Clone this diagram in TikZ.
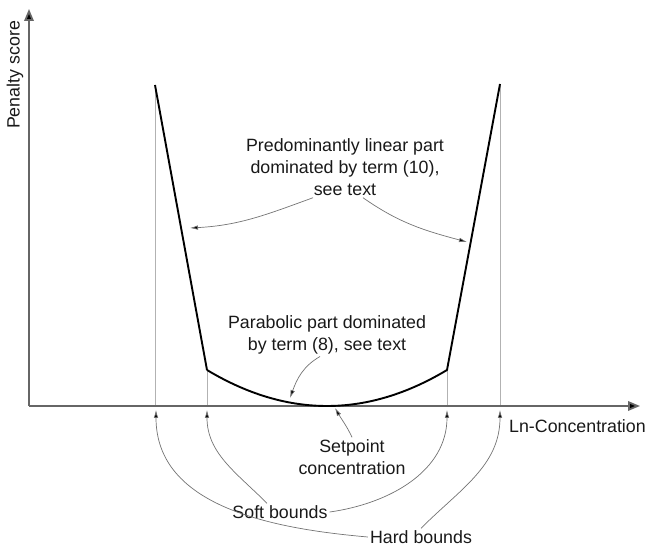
\documentclass[tikz,border=0pt]{standalone}
\usepackage{fontspec}
\setmainfont{Liberation Sans}
\usetikzlibrary{arrows.meta}
\begin{document}
\begin{tikzpicture}[x=1pt,y=1pt,
  lbl/.style={font=\fontsize{17.8}{22}\selectfont, text=black!90, align=center, inner sep=2pt},
  axisline/.style={draw=black!60, line width=1.8pt},
  axtip/.style={-{Triangle[length=12pt,width=9.5pt,fill=black]}},
  guide/.style={draw=black!30, line width=0.8pt},
  note/.style={draw=black!55, line width=0.7pt, -{Latex[length=8pt,width=4.5pt,fill=black]}},
  curve/.style={draw=black, line width=1.9pt}]
\useasboundingbox (0,0) rectangle (648,546);
% named points
\coordinate (O) at (29,140);
\coordinate (Ytop) at (29,537);
\coordinate (Xend) at (640,140);
\coordinate (LT) at (155,461);
\coordinate (LB) at (207,176);
\coordinate (RB) at (447,176);
\coordinate (RT) at (500,462);
\coordinate (LTa) at (155,140);
\coordinate (LBa) at (207,140);
\coordinate (RBa) at (447,140);
\coordinate (RTa) at (500,140);
\coordinate (hl) at (156,136);
\coordinate (sl) at (207,136);
\coordinate (sr) at (447,136);
\coordinate (hr) at (500,136);
\coordinate (sp) at (335,138);
\coordinate (pl) at (190,318);
\coordinate (pr) at (467,304);
\coordinate (pb) at (290,148);
% guides
\draw[guide] (LT) -- (LTa);
\draw[guide] (LB) -- (LBa);
\draw[guide] (RB) -- (RBa);
\draw[guide] (RT) -- (RTa);
% axes
\draw[axisline, axtip] (O) -- (Ytop);
\draw[axisline, axtip] (O) -- (Xend);
% curve
\draw[curve, line join=round] (LT) -- (LB)
  plot[domain=207:447, samples=60] (\x,{140+36*((\x-327)/120)^2}) -- (RT);
% labels
\node[lbl, rotate=90] (ylab) at (15,471) {Penalty score};
\node[lbl, anchor=west, inner sep=0pt] (xlab) at (509,120) {Ln-Concentration};
\node[lbl] (pred) at (345,379) {Predominantly linear part\\dominated by term (10),\\see text};
\node[lbl] (parab) at (327,211) {Parabolic part dominated\\by term (8), see text};
\node[lbl] (setp) at (352,89) {Setpoint\\concentration};
\node[lbl] (soft) at (280,34) {Soft bounds};
\node[lbl] (hard) at (421,9) {Hard bounds};
% annotation arrows
\draw[note] ([xshift=-32pt]pred.south) to[out=200, in=3] (pl);
\draw[note] ([xshift=18pt]pred.south) to[out=-35, in=165] (pr);
\draw[note] ([xshift=-7pt]parab.south) to[out=-150, in=70] (pb);
\draw[note] (setp.north) to[out=115, in=-60] (sp);
\draw[note] ([xshift=-13pt]soft.north) to[out=135, in=-90] (sl);
\draw[note] (soft.east) to[out=8, in=-90] (sr);
\draw[note] (hard.west) to[out=175, in=-90] (hl);
\draw[note] (hard.north) to[out=45, in=-90] (hr);
\end{tikzpicture}
\end{document}
